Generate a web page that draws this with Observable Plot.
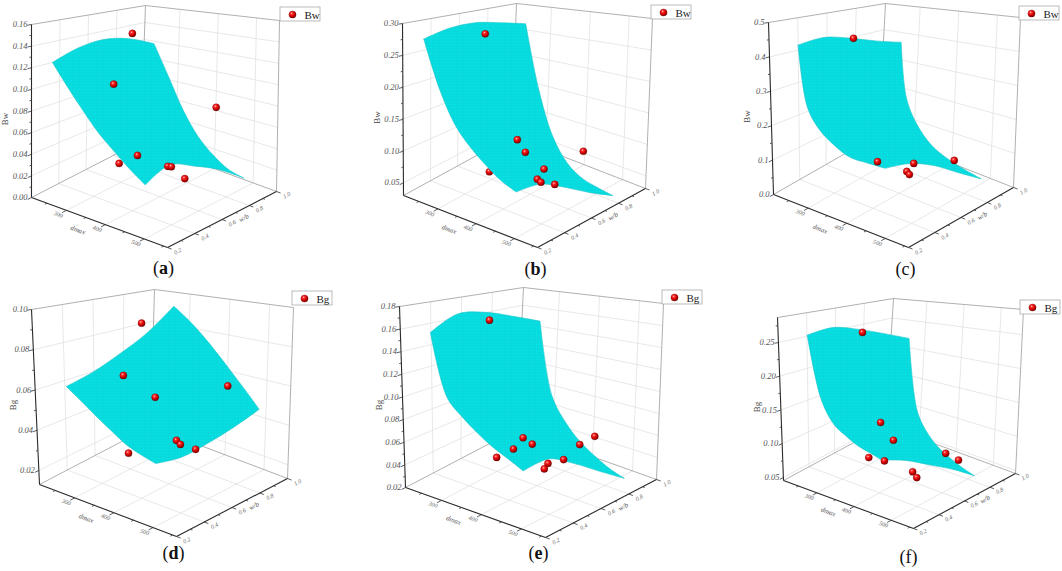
<!DOCTYPE html>
<html><head><meta charset="utf-8">
<script src="https://cdn.jsdelivr.net/npm/d3@7"></script>
<script src="https://cdn.jsdelivr.net/npm/@observablehq/plot@0.6"></script>
<style>html,body{margin:0;padding:0;background:#fff;} #chart svg{display:block;}</style>
</head><body><div id="chart"></div>
<script>
// ---------------- data ----------------
const dmaxTicks = [300, 400, 500];
const dmaxTickLabels = ["300", "400", "500"];
const dmaxMinorTicks = [250, 350, 450, 550];
const ratioTicks = [0.2, 0.4, 0.6, 0.8, 1.0];
const ratioTickLabels = ["0.2", "0.4", "0.6", "0.8", "1.0"];
const ratioMinorTicks = [0.3, 0.5, 0.7, 0.9];
const ratioGrid = [0.24, 0.42, 0.60, 0.78, 0.96];

const panelIds = ["a", "b", "c", "d", "e", "f"];
const responseNames = ["Bw", "Bw", "Bw", "Bg", "Bg", "Bg"];
const captionBold = [true, true, false, true, true, false];

const zDomainA = [0, 0.16];
const zTicksA = [0, 0.02, 0.04, 0.06, 0.08, 0.10, 0.12, 0.14, 0.16];
const zLabelsA = ["0.00", "0.02", "0.04", "0.06", "0.08", "0.10", "0.12", "0.14", "0.16"];
const zDomainB = [0.03, 0.30];
const zTicksB = [0.05, 0.10, 0.15, 0.20, 0.25, 0.30];
const zLabelsB = ["0.05", "0.10", "0.15", "0.20", "0.25", "0.30"];
const zDomainC = [0, 0.5];
const zTicksC = [0, 0.1, 0.2, 0.3, 0.4, 0.5];
const zLabelsC = ["0.0", "0.1", "0.2", "0.3", "0.4", "0.5"];
const zDomainD = [0.013, 0.10];
const zTicksD = [0.02, 0.04, 0.06, 0.08, 0.10];
const zLabelsD = ["0.02", "0.04", "0.06", "0.08", "0.10"];
const zDomainE = [0.02, 0.18];
const zTicksE = [0.02, 0.04, 0.06, 0.08, 0.10, 0.12, 0.14, 0.16, 0.18];
const zLabelsE = ["0.02", "0.04", "0.06", "0.08", "0.10", "0.12", "0.14", "0.16", "0.18"];
const zDomainF = [0.0455, 0.287];
const zTicksF = [0.05, 0.10, 0.15, 0.20, 0.25];
const zLabelsF = ["0.05", "0.10", "0.15", "0.20", "0.25"];

// surface grids: rows = dmax values, columns = ratioGrid
const dmaxGridA = [250, 290, 330, 370, 410, 450, 490];
const surfA = [
  [0.126, 0.134, 0.137, 0.132, 0.120],
  [0.106, 0.112, 0.111, 0.102, 0.087],
  [0.088, 0.092, 0.086, 0.074, 0.055],
  [0.072, 0.075, 0.067, 0.053, 0.032],
  [0.060, 0.064, 0.054, 0.039, 0.018],
  [0.049, 0.054, 0.044, 0.030, 0.009],
  [0.040, 0.048, 0.038, 0.025, 0.006]
];
const dmaxGridB = [250, 290, 330, 370, 410, 450, 490];
const surfB = [
  [0.277, 0.286, 0.287, 0.278, 0.266],
  [0.205, 0.203, 0.190, 0.169, 0.145],
  [0.157, 0.148, 0.127, 0.099, 0.068],
  [0.130, 0.119, 0.095, 0.063, 0.030],
  [0.111, 0.101, 0.077, 0.046, 0.014],
  [0.096, 0.089, 0.066, 0.038, 0.009],
  [0.087, 0.082, 0.060, 0.033, 0.006]
];
const dmaxGridC = [270, 290, 320, 360, 400, 445, 490];
const surfC = [
  [0.440, 0.447, 0.428, 0.400, 0.373],
  [0.271, 0.273, 0.249, 0.215, 0.182],
  [0.216, 0.211, 0.182, 0.142, 0.102],
  [0.183, 0.174, 0.141, 0.096, 0.049],
  [0.164, 0.154, 0.122, 0.075, 0.026],
  [0.163, 0.150, 0.116, 0.066, 0.012],
  [0.163, 0.148, 0.113, 0.060, 0.003]
];
const dmaxGridD = [275, 312, 349, 386, 423, 460, 497];
const surfD = [
  [0.0638, 0.0670, 0.0725, 0.0800, 0.0926],
  [0.0584, 0.0614, 0.0668, 0.0742, 0.0860],
  [0.0530, 0.0556, 0.0608, 0.0676, 0.0785],
  [0.0482, 0.0500, 0.0546, 0.0608, 0.0703],
  [0.0438, 0.0447, 0.0485, 0.0540, 0.0620],
  [0.0412, 0.0408, 0.0435, 0.0477, 0.0538],
  [0.0393, 0.0374, 0.0388, 0.0415, 0.0457]
];
const dmaxGridE = [270, 307, 345, 382, 419, 457, 494];
const surfE = [
  [0.159, 0.171, 0.168, 0.159, 0.148],
  [0.106, 0.112, 0.103, 0.089, 0.073],
  [0.092, 0.095, 0.084, 0.067, 0.049],
  [0.082, 0.084, 0.072, 0.054, 0.035],
  [0.074, 0.075, 0.062, 0.045, 0.026],
  [0.068, 0.069, 0.055, 0.038, 0.019],
  [0.062, 0.063, 0.050, 0.033, 0.015]
];
const dmaxGridF = [273, 305, 337, 369, 401, 433, 465];
const surfF = [
  [0.263, 0.267, 0.256, 0.240, 0.221],
  [0.175, 0.169, 0.149, 0.125, 0.098],
  [0.144, 0.137, 0.117, 0.093, 0.065],
  [0.132, 0.122, 0.101, 0.077, 0.048],
  [0.123, 0.111, 0.091, 0.067, 0.038],
  [0.118, 0.105, 0.084, 0.061, 0.031],
  [0.113, 0.099, 0.078, 0.055, 0.026]
];

// experimental points: [dmax, ratio, value]
const dotsA = [[325,0.60,0.147],[336,0.44,0.105],[415,0.96,0.067],[470,0.24,0.062],[351,0.44,0.034],[534,0.28,0.057],[536,0.30,0.056],[549,0.36,0.045]];
const dotsB = [[306,0.52,0.277],[492,0.24,0.158],[513,0.24,0.144],[410,0.96,0.061],[337,0.60,0.060],[293,0.60,0.041],[519,0.36,0.113],[516,0.32,0.102],[517,0.344,0.096],[519,0.44,0.085]];
const dotsC = [[279,0.60,0.429],[470,0.24,0.174],[550,0.28,0.186],[419,0.96,0.028],[503,0.36,0.141],[504,0.376,0.131],[308,0.76,0.097],[332,0.76,0.075],[411,0.88,0.039]];
const dotsD = [[332,0.60,0.091],[345,0.44,0.068],[460,0.84,0.059],[425,0.44,0.061],[296,0.60,0.021],[507,0.36,0.047],[511,0.376,0.045],[526,0.44,0.042]];
const dotsE = [[280,0.60,0.161],[481,0.28,0.085],[456,0.28,0.074],[489,0.32,0.079],[408,0.88,0.041],[417,0.96,0.045],[299,0.60,0.033],[383,0.76,0.038],[513,0.36,0.064],[518,0.32,0.062],[509,0.48,0.061]];
const dotsF = [[283,0.60,0.252],[391,0.44,0.139],[425,0.44,0.119],[358,0.44,0.084],[472,0.24,0.113],[476,0.44,0.084],[487,0.44,0.078],[453,0.76,0.078],[474,0.80,0.068]];

// ---------------- layout (pixel positions of box corners, legends, captions) ----------------
const W = 1062, H = 571;
const DMAX_DOMAIN = [210, 560], RATIO_DOMAIN = [0.2, 1.0];
const layoutA = {L0:[31,197],F0:[167,247],R0:[276,191],L1:[31,24],B1:[145,5],R1:[279,20],legend:[280,7],caption:[163,268]};
const layoutB = {L0:[403,195],F0:[537,247],R0:[645,188],L1:[402,23],B1:[516,3],R1:[652,18],legend:[651,5],caption:[535,269]};
const layoutC = {L0:[773,194],F0:[908,247],R0:[1013,187],L1:[768,22],B1:[885,3],R1:[1020,17],legend:[1019,6],caption:[905,269]};
const layoutD = {L0:[39,484],F0:[176,536],R0:[287,478],L1:[31,309],B1:[154,289],R1:[293,307],legend:[292,291],caption:[173,553]};
const layoutE = {L0:[405,487],F0:[545,537],R0:[656,479],L1:[399,306],B1:[523,287],R1:[663,303],legend:[662,290],caption:[538,553]};
const layoutF = {L0:[783,480],F0:[913,528],R0:[1015,473],L1:[777,317],B1:[893,298],R1:[1023,309],legend:[1020,300],caption:[908,557]};

const panels = panelIds.map((id, k) => ({
  id, name: responseNames[k], bold: captionBold[k],
  zDomain: [zDomainA, zDomainB, zDomainC, zDomainD, zDomainE, zDomainF][k],
  zTicks: [zTicksA, zTicksB, zTicksC, zTicksD, zTicksE, zTicksF][k],
  zLabels: [zLabelsA, zLabelsB, zLabelsC, zLabelsD, zLabelsE, zLabelsF][k],
  dGrid: [dmaxGridA, dmaxGridB, dmaxGridC, dmaxGridD, dmaxGridE, dmaxGridF][k],
  surf: [surfA, surfB, surfC, surfD, surfE, surfF][k],
  dots: [dotsA, dotsB, dotsC, dotsD, dotsE, dotsF][k],
  lay: [layoutA, layoutB, layoutC, layoutD, layoutE, layoutF][k]
}));

function projector(lay, zDomain) {
  const {L0, F0, R0, L1, B1, R1} = lay;
  const bu = [F0[0]-L0[0], F0[1]-L0[1]], bv = [R0[0]-F0[0], R0[1]-F0[1]];
  const tu = [R1[0]-B1[0], R1[1]-B1[1]], tv = [B1[0]-L1[0], B1[1]-L1[1]];
  const raw = (u, v, w) => {
    const bx = L0[0] + u*bu[0] + v*bv[0], by = L0[1] + u*bu[1] + v*bv[1];
    const tx = L1[0] + u*tu[0] + v*tv[0], ty = L1[1] + u*tu[1] + v*tv[1];
    return [bx + (tx-bx)*w, by + (ty-by)*w];
  };
  const su = d3.scaleLinear(DMAX_DOMAIN, [0, 1]);
  const sv = d3.scaleLinear(RATIO_DOMAIN, [0, 1]);
  const sw = d3.scaleLinear(zDomain, [0, 1]);
  return {raw, su, sv, sw, bu, bv, at: (d, r, z) => raw(su(d), sv(r), sw(z))};
}
function surfAt(dg, rg, G, d, r) {
  if (d < dg[0] || d > dg[dg.length-1] || r < rg[0] || r > rg[rg.length-1]) return null;
  const i = Math.min(Math.max(d3.bisectRight(dg, d) - 1, 0), dg.length - 2);
  const j = Math.min(Math.max(d3.bisectRight(rg, r) - 1, 0), rg.length - 2);
  const a = (d - dg[i]) / (dg[i+1] - dg[i]), b = (r - rg[j]) / (rg[j+1] - rg[j]);
  return (1-a)*(1-b)*G[i][j] + a*(1-b)*G[i+1][j] + (1-a)*b*G[i][j+1] + a*b*G[i+1][j+1];
}
const ang = (vec) => Math.atan2(vec[1], vec[0]) * 180 / Math.PI;

const gridSegs = [], frameSegs = [], axisSegs = [], tickSegs = [], surfPts = [];
const dotsBelow = [], dotsAbove = [];
const zLabelRows = [], axLabelRows = [], titleRows = [], zTitleRows = [];
const legendBoxes = [], legendDots = [], legendTexts = [], captionRows = [];
const seg = (arr, P, a, b) => { const p = P.raw(...a), q = P.raw(...b); arr.push({x1: p[0], y1: p[1], x2: q[0], y2: q[1]}); };

for (const pn of panels) {
  const P = projector(pn.lay, pn.zDomain);
  const uT = dmaxTicks.map(P.su), vT = ratioTicks.map(P.sv), wT = pn.zTicks.map(P.sw);
  const inner = t => t > 0.01 && t < 0.99;
  // floor grid
  uT.filter(inner).forEach(u => seg(gridSegs, P, [u,0,0], [u,1,0]));
  vT.filter(inner).forEach(v => seg(gridSegs, P, [0,v,0], [1,v,0]));
  // left wall
  vT.filter(inner).forEach(v => seg(gridSegs, P, [0,v,0], [0,v,1]));
  wT.filter(inner).forEach(w => seg(gridSegs, P, [0,0,w], [0,1,w]));
  // right wall
  uT.filter(inner).forEach(u => seg(gridSegs, P, [u,1,0], [u,1,1]));
  wT.filter(inner).forEach(w => seg(gridSegs, P, [0,1,w], [1,1,w]));
  // frame
  [[[0,0,1],[0,1,1]], [[0,1,1],[1,1,1]], [[1,1,0],[1,1,1]], [[0,1,0],[0,1,1]], [[0,0,0],[0,1,0]], [[0,1,0],[1,1,0]]]
    .forEach(([a, b]) => seg(frameSegs, P, a, b));
  // axes
  [[[0,0,0],[0,0,1]], [[0,0,0],[1,0,0]], [[1,0,0],[1,1,0]]].forEach(([a, b]) => seg(axisSegs, P, a, b));
  // ticks
  wT.forEach(w => seg(tickSegs, P, [0,0,w], [0,-0.035,w]));
  const zt = pn.zTicks, step = zt[1] - zt[0];
  d3.range(zt[0] - step/2, pn.zDomain[1] + 1e-9, step).map(P.sw).filter(t => t >= 0 && t <= 1)
    .forEach(w => seg(tickSegs, P, [0,0,w], [0,-0.018,w]));
  uT.forEach(u => seg(tickSegs, P, [u,0,0], [u,-0.04,0]));
  dmaxMinorTicks.map(P.su).filter(t => t >= 0 && t <= 1).forEach(u => seg(tickSegs, P, [u,0,0], [u,-0.02,0]));
  vT.forEach(v => seg(tickSegs, P, [1,v,0], [1.03,v,0]));
  ratioMinorTicks.map(P.sv).forEach(v => seg(tickSegs, P, [1,v,0], [1.015,v,0]));
  // labels
  wT.forEach((w, k) => { const p = P.raw(0,0,w); zLabelRows.push({x: p[0] - 4, y: p[1], text: pn.zLabels[k]}); });
  uT.forEach((u, k) => { const p = P.raw(u,-0.075,0); axLabelRows.push({x: p[0], y: p[1], text: dmaxTickLabels[k], rotate: ang(P.bu)}); });
  vT.forEach((v, k) => { const p = P.raw(1.075,v,0); axLabelRows.push({x: p[0], y: p[1], text: ratioTickLabels[k], rotate: ang(P.bv)}); });
  { const p = P.raw(0.47,-0.16,0); titleRows.push({x: p[0], y: p[1], text: "dmax", rotate: ang(P.bu)}); }
  { const p = P.raw(1.08,0.6,0); titleRows.push({x: p[0], y: p[1], text: "w/b", rotate: ang(P.bv)}); }
  { const L0 = pn.lay.L0, L1 = pn.lay.L1; zTitleRows.push({x: L0[0] - 26, y: (L0[1] + L1[1]) / 2 + 8, text: pn.name}); }
  // surface outline (sharp corners via duplicated corner nodes)
  const G = pn.surf, dg = pn.dGrid, rg = ratioGrid, nI = dg.length, nJ = rg.length;
  const ring = [];
  for (let j = 0; j < nJ; j++) ring.push([0, j]);
  ring.push([0, nJ-1]);
  for (let i = 1; i < nI; i++) ring.push([i, nJ-1]);
  ring.push([nI-1, nJ-1]);
  for (let j = nJ-2; j >= 0; j--) ring.push([nI-1, j]);
  ring.push([nI-1, 0]);
  for (let i = nI-2; i >= 0; i--) ring.push([i, 0]);
  ring.forEach(([i, j]) => { const p = P.at(dg[i], rg[j], G[i][j]); surfPts.push({x: p[0], y: p[1], panel: pn.id}); });
  // points
  pn.dots.forEach(([d, r, z]) => {
    const p = P.at(d, r, z);
    const s = surfAt(dg, rg, G, d, r);
    (s !== null && z < s ? dotsBelow : dotsAbove).push({x: p[0], y: p[1]});
  });
  // legend
  const [lx, ly] = pn.lay.legend;
  legendBoxes.push({x1: lx, y1: ly, x2: lx + 40, y2: ly + 14});
  legendDots.push({x: lx + 12, y: ly + 7});
  legendTexts.push({x: lx + 24, y: ly + 7.5, text: pn.name});
  const [cx, cy] = pn.lay.caption;
  captionRows.push({x: cx, y: cy, text: `(${pn.id})`, letter: pn.id, bold: pn.bold});
}

const serif = "Liberation Serif, Times New Roman, serif";
const chart = Plot.plot({
  width: W, height: H, margin: 0,
  style: {background: "#fff", overflow: "visible"},
  x: {domain: [0, W], range: [0, W], axis: null},
  y: {domain: [0, H], range: [0, H], axis: null},
  marks: [
    Plot.link(gridSegs, {x1: "x1", y1: "y1", x2: "x2", y2: "y2", stroke: "#dedede", strokeWidth: 0.7}),
    Plot.link(frameSegs, {x1: "x1", y1: "y1", x2: "x2", y2: "y2", stroke: "#9c9c9c", strokeWidth: 0.8}),
    Plot.link(axisSegs, {x1: "x1", y1: "y1", x2: "x2", y2: "y2", stroke: "#2a2a2a", strokeWidth: 1.1}),
    Plot.link(tickSegs, {x1: "x1", y1: "y1", x2: "x2", y2: "y2", stroke: "#333", strokeWidth: 0.8}),
    Plot.dot(dotsBelow, {x: "x", y: "y", r: 3.6, fill: "url(#ball)", stroke: "#6a0000", strokeWidth: 0.3}),
    Plot.line(surfPts, {x: "x", y: "y", z: "panel", curve: "catmull-rom", fill: "url(#mesh)", stroke: "#19c4ca", strokeWidth: 0.6}),
    Plot.dot(dotsAbove, {x: "x", y: "y", r: 3.6, fill: "url(#ball)", stroke: "#6a0000", strokeWidth: 0.3}),
    Plot.text(zLabelRows, {x: "x", y: "y", text: "text", textAnchor: "end", fontSize: 8.5, fontStyle: "italic", fontFamily: serif, fill: "#555"}),
    Plot.text(axLabelRows, {x: "x", y: "y", text: "text", rotate: "rotate", fontSize: 6, fontStyle: "italic", fontFamily: serif, fill: "#666"}),
    Plot.text(titleRows, {x: "x", y: "y", text: "text", rotate: "rotate", fontSize: 7, fontStyle: "italic", fontFamily: serif, fill: "#555"}),
    Plot.text(zTitleRows, {x: "x", y: "y", text: "text", rotate: -90, fontSize: 9, fontFamily: serif, fill: "#444"}),
    Plot.rect(legendBoxes, {x1: "x1", y1: "y1", x2: "x2", y2: "y2", fill: "#fff", stroke: "#aaa", strokeWidth: 0.8}),
    Plot.dot(legendDots, {x: "x", y: "y", r: 3.6, fill: "url(#ball)", stroke: "#6a0000", strokeWidth: 0.3}),
    Plot.text(legendTexts, {x: "x", y: "y", text: "text", textAnchor: "start", fontSize: 11, fontFamily: serif, fill: "#222"}),
    Plot.text(captionRows, {x: "x", y: "y", text: "text", fontSize: 18, fontFamily: serif, fill: "#111", className: "cap"})
  ]
});

const defs = document.createElementNS("http://www.w3.org/2000/svg", "defs");
defs.innerHTML = `
  <radialGradient id="ball" cx="38%" cy="34%" r="70%">
    <stop offset="0" stop-color="#ffd0d0"/>
    <stop offset="0.22" stop-color="#ff3030"/>
    <stop offset="0.6" stop-color="#d00000"/>
    <stop offset="1" stop-color="#6e0000"/>
  </radialGradient>
  <pattern id="mesh" width="3" height="3" patternUnits="userSpaceOnUse">
    <rect width="3" height="3" fill="#02e4e6"/>
    <path d="M0 0.3H3M0.3 0V3" stroke="#17c3ca" stroke-width="0.55"/>
  </pattern>`;
chart.insertBefore(defs, chart.firstChild);

chart.querySelectorAll("g.cap text").forEach((t, i) => {
  const row = captionRows[i];
  t.textContent = "";
  const ns = "http://www.w3.org/2000/svg";
  const a = document.createElementNS(ns, "tspan"); a.textContent = "(";
  const b = document.createElementNS(ns, "tspan"); b.textContent = row.letter;
  if (row.bold) b.setAttribute("font-weight", "bold");
  const c = document.createElementNS(ns, "tspan"); c.textContent = ")";
  t.append(a, b, c);
});

document.getElementById("chart").appendChild(chart);
</script>
</body></html>
